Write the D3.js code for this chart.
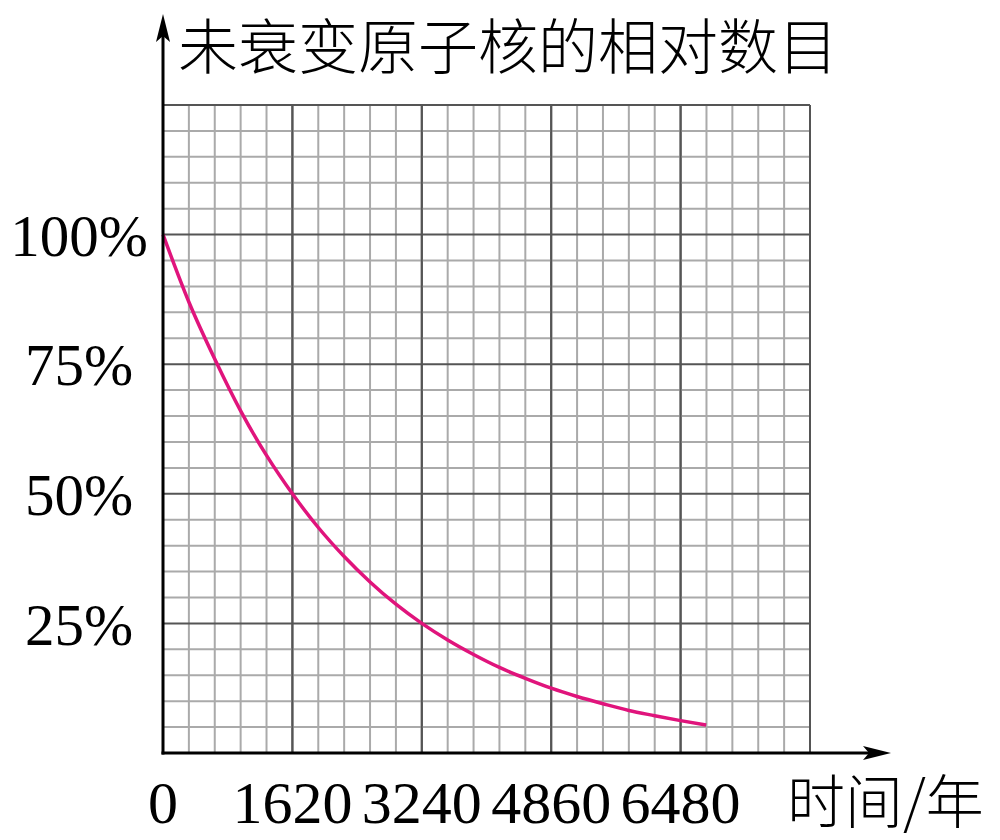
<!DOCTYPE html>
<html lang="zh">
<head>
  <meta charset="UTF-8">
  <title>未衰变原子核的相对数目</title>
  <script src="https://cdn.jsdelivr.net/npm/d3@7"></script>
  <style>
    html, body { margin: 0; padding: 0; background: #fff; }
    svg { display: block; }
  </style>
</head>
<body>
  <svg width="1000" height="840"></svg>
  <script>
    // values
    var years = [0, 324, 648, 972, 1296, 1620, 1944, 2268, 2592, 2916, 3240, 3564, 3888, 4212, 4536, 4860, 5184, 5508, 5832, 6156, 6480, 6800];
    var remaining = [100, 87, 76, 66, 57.4, 50, 43.5, 37.9, 33, 28.7, 25, 21.8, 19, 16.5, 14.4, 12.5, 10.9, 9.5, 8.2, 7.2, 6.25, 5.4];
    var xTicks = [0, 1620, 3240, 4860, 6480];
    var yTicks = ["25%", "50%", "75%", "100%"];
    var yTickValues = [25, 50, 75, 100];
    var title = "未衰变原子核的相对数目";
    var xTitle = "时间/年";

    var svg = d3.select("svg");

    var x = d3.scaleLinear().domain([0, 8100]).range([163, 810]);
    var y = d3.scaleLinear().domain([0, 125]).range([753, 105]);

    var serif = "'Liberation Serif', 'DejaVu Serif', serif";
    var cjk = "'Noto Sans CJK SC', sans-serif";

    // grid
    var grid = svg.append("g");
    var minorX = d3.range(0, 8100 + 1, 324);
    var minorY = d3.range(0, 125 + 1, 5);

    grid.selectAll(".vx").data(minorX).enter().append("line")
      .attr("x1", function (d) { return x(d); })
      .attr("x2", function (d) { return x(d); })
      .attr("y1", y(0)).attr("y2", y(125))
      .attr("stroke", function (d) { return d % 1620 === 0 ? "#555" : "#aaa"; })
      .attr("stroke-width", 2);

    grid.selectAll(".hy").data(minorY).enter().append("line")
      .attr("y1", function (d) { return y(d); })
      .attr("y2", function (d) { return y(d); })
      .attr("x1", x(0)).attr("x2", x(8100))
      .attr("stroke", function (d) { return d % 25 === 0 ? "#555" : "#aaa"; })
      .attr("stroke-width", 2);

    // redraw major lines on top of minor ones
    grid.selectAll(".mx").data(minorX.filter(function (d) { return d % 1620 === 0; })).enter().append("line")
      .attr("x1", function (d) { return x(d); })
      .attr("x2", function (d) { return x(d); })
      .attr("y1", y(0)).attr("y2", y(125))
      .attr("stroke", "#555").attr("stroke-width", 2);

    // curve
    var line = d3.line()
      .x(function (d) { return x(d[0]); })
      .y(function (d) { return y(d[1]); })
      .curve(d3.curveMonotoneX);

    svg.append("path")
      .datum(years.map(function (t, i) { return [t, remaining[i]]; }))
      .attr("d", line)
      .attr("fill", "none")
      .attr("stroke", "#e0147c")
      .attr("stroke-width", 3.5);

    // axes with arrows
    svg.append("line")
      .attr("x1", x(0)).attr("x2", x(0))
      .attr("y1", y(0) + 1.5).attr("y2", 30)
      .attr("stroke", "#000").attr("stroke-width", 3);
    svg.append("path")
      .attr("d", "M" + x(0) + ",14 L" + (x(0) - 7) + ",42 L" + x(0) + ",36 L" + (x(0) + 7) + ",42 Z")
      .attr("fill", "#000");

    svg.append("line")
      .attr("x1", x(0) - 1.5).attr("x2", 875)
      .attr("y1", y(0)).attr("y2", y(0))
      .attr("stroke", "#000").attr("stroke-width", 3);
    svg.append("path")
      .attr("d", "M891," + y(0) + " L863," + (y(0) - 7) + " L869," + y(0) + " L863," + (y(0) + 7) + " Z")
      .attr("fill", "#000");

    // tick labels
    svg.append("g").selectAll("text").data(xTicks).enter().append("text")
      .attr("x", function (d) { return x(d); })
      .attr("y", 823)
      .attr("text-anchor", "middle")
      .attr("font-family", serif)
      .attr("font-size", 60)
      .text(function (d) { return d; });

    svg.append("g").selectAll("text").data(yTickValues).enter().append("text")
      .attr("x", 79)
      .attr("y", function (d) { return y(d); })
      .attr("dy", "0.36em")
      .attr("text-anchor", "middle")
      .attr("font-family", serif)
      .attr("font-size", 59)
      .text(function (d, i) { return yTicks[i]; });

    // titles
    svg.append("text")
      .attr("x", 178).attr("y", 69)
      .attr("font-family", cjk)
      .attr("font-weight", 300)
      .attr("font-size", 60)
      .text(title);

    svg.append("text")
      .attr("x", 787).attr("y", 823)
      .attr("font-family", cjk)
      .attr("font-weight", 300)
      .attr("font-size", 58)
      .text(xTitle);
  </script>
</body>
</html>
